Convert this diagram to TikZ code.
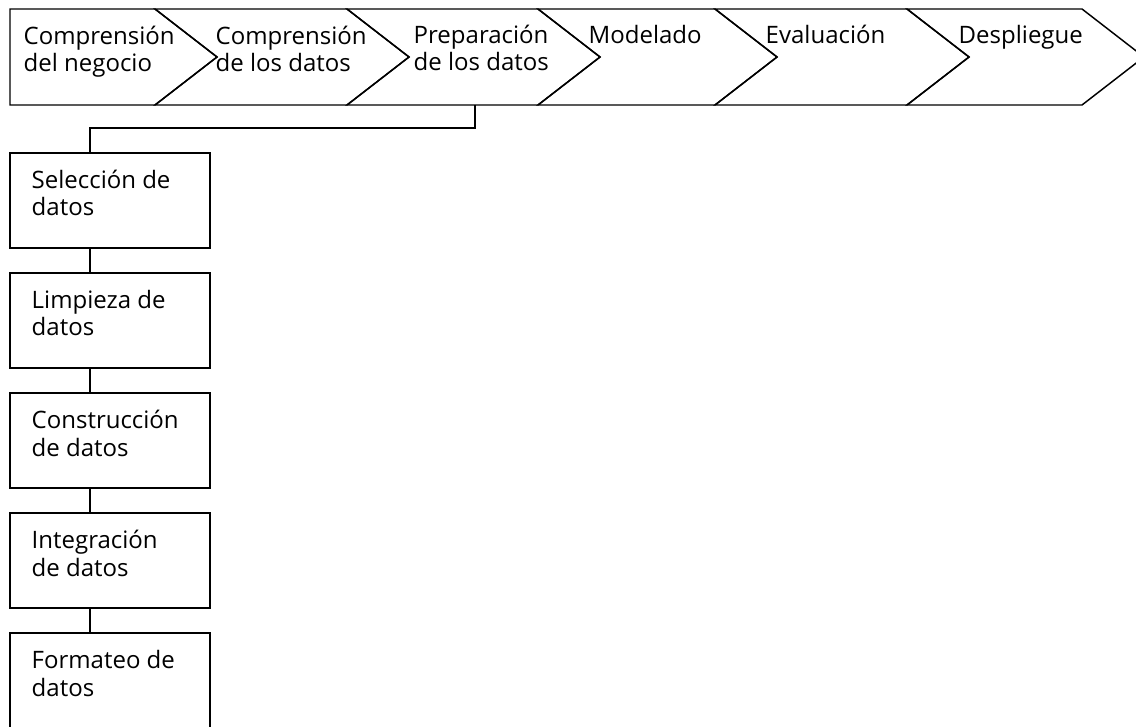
\documentclass[tikz,border=0pt]{standalone}
\usepackage{fontspec}
\setmainfont{Open Sans}
\begin{document}
\begin{tikzpicture}[x=0.75pt,y=-0.75pt,line width=1.1pt,line join=miter,
  lbl/.style={anchor=base west,align=left,inner sep=0pt,font=\fontsize{18}{20.8}\selectfont},
  box/.style={draw,minimum width=150pt,minimum height=71.25pt,inner sep=0pt},
  conn/.style={line width=1.1pt}]
\useasboundingbox (0,0) rectangle (1136,727);
% chevron band
\draw (10,9) -- (155,9) -- (217,57) -- (155,105) -- (10,105) -- cycle;
\draw (155,9) -- (347,9) -- (409,57) -- (347,105) -- (155,105) -- (217,57) -- cycle;
\draw (347,9) -- (538,9) -- (600,57) -- (538,105) -- (347,105) -- (409,57) -- cycle;
\draw (538,9) -- (715,9) -- (777,57) -- (715,105) -- (538,105) -- (600,57) -- cycle;
\draw (715,9) -- (907,9) -- (969,57) -- (907,105) -- (715,105) -- (777,57) -- cycle;
\draw (907,9) -- (1082,9) -- (1144,57) -- (1082,105) -- (907,105) -- (969,57) -- cycle;
% labels (base anchor = last line baseline)
\node[lbl] (c1) at (23,72) {Comprensión\\del negocio};
\node[lbl] (c2) at (215,72) {Comprensión\\de los datos};
\node[lbl] (c3) at (413,71) {Preparación\\de los datos};
\node[lbl] (c4) at (588,44) {Modelado};
\node[lbl] (c5) at (765,44) {Evaluación};
\node[lbl] (c6) at (958,44) {Despliegue};
\coordinate (prepbot) at (475,105);
% task boxes
\node[box] (b1) at (110,200.5) {};
\node[box] (b2) at (110,320.5) {};
\node[box] (b3) at (110,440.5) {};
\node[box] (b4) at (110,560.5) {};
\node[box] (b5) at (110,680.5) {};
\node[lbl] (t1) at (31,216) {Selección de\\datos};
\node[lbl] (t2) at (31,336) {Limpieza de\\datos};
\node[lbl] (t3) at (31,456) {Construcción\\de datos};
\node[lbl] (t4) at (31,576) {Integración\\de datos};
\node[lbl] (t5) at (31,696) {Formateo de\\datos};
% connectors
\draw[conn] (prepbot) -- (475,128) -| ([xshift=-15pt]b1.north);
\draw[conn] ([xshift=-15pt]b1.south) -- ([xshift=-15pt]b2.north);
\draw[conn] ([xshift=-15pt]b2.south) -- ([xshift=-15pt]b3.north);
\draw[conn] ([xshift=-15pt]b3.south) -- ([xshift=-15pt]b4.north);
\draw[conn] ([xshift=-15pt]b4.south) -- ([xshift=-15pt]b5.north);
\end{tikzpicture}
\end{document}
